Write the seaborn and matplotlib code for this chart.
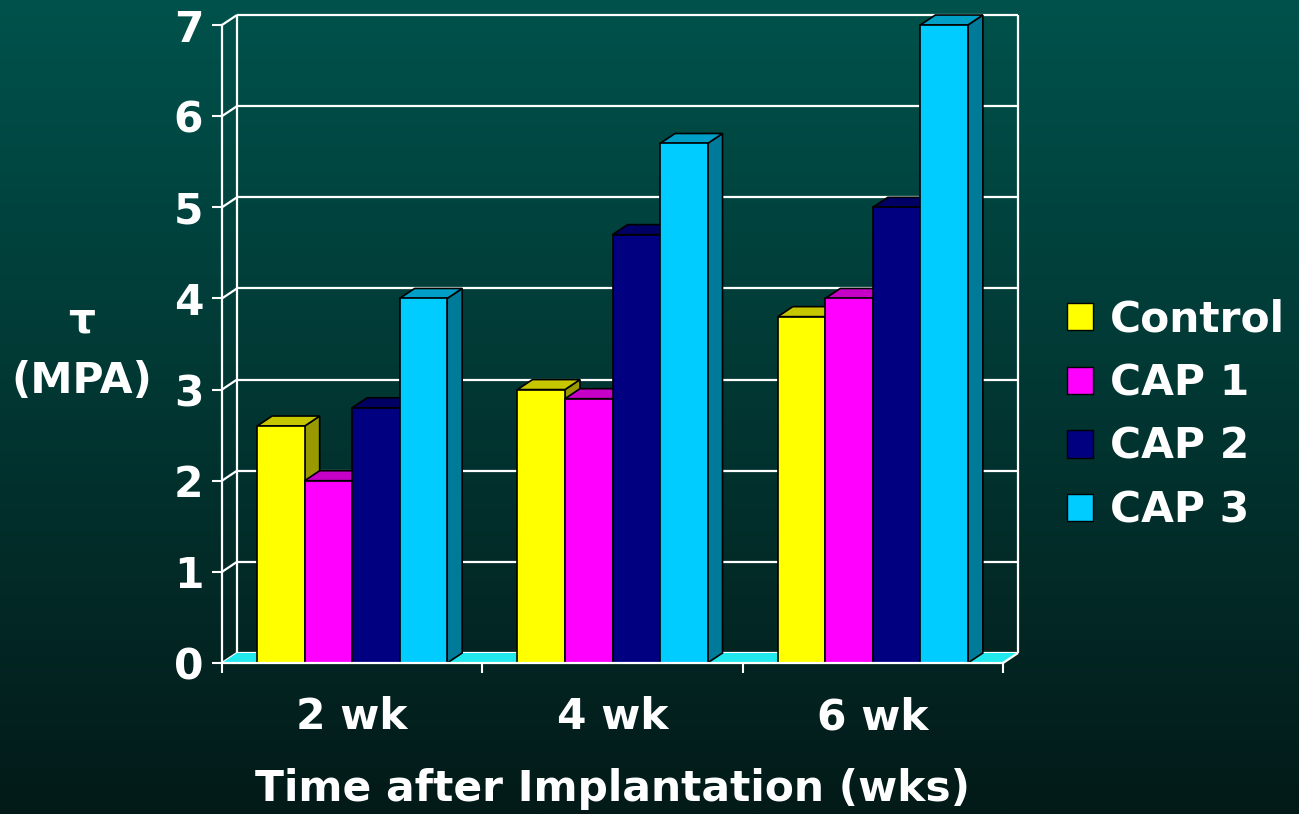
import numpy as np
import pandas as pd
import matplotlib
matplotlib.use("Agg")
import matplotlib.pyplot as plt
from matplotlib.patches import Polygon, Patch, Rectangle
from matplotlib.colors import to_rgb
import seaborn as sns

# ---- data -------------------------------------------------------------
weeks = ["2 wk", "4 wk", "6 wk"]
groups = ["Control", "CAP 1", "CAP 2", "CAP 3"]
control = [2.6, 3.0, 3.8]
cap1 = [2.0, 2.9, 4.0]
cap2 = [2.8, 4.7, 5.0]
cap3 = [4.0, 5.7, 7.0]
y_ticks = [0, 1, 2, 3, 4, 5, 6, 7]

colors = ["#FFFF00", "#FF00FF", "#000080", "#00CCFF"]
floor_color = "#20E8EC"

df = pd.DataFrame({
    "week": weeks * 4,
    "group": [g for g in groups for _ in weeks],
    "tau": control + cap1 + cap2 + cap3,
})

sns.set_theme(style="white")
plt.rcParams["font.family"] = ["DejaVu Sans"]
plt.rcParams["font.weight"] = "bold"

W, H = 1299, 814
fig = plt.figure(figsize=(W / 100, H / 100), dpi=100)

# ---- background gradient ---------------------------------------------
bg = fig.add_axes([0, 0, 1, 1], zorder=-10)
top = np.array([0, 82, 76]) / 255
bot = np.array([3, 26, 24]) / 255
t = np.linspace(0, 1, 400)[:, None]
grad = (top[None, :] * (1 - t) + bot[None, :] * t)[:, None, :]
grad = np.repeat(grad, 4, axis=1)
bg.imshow(grad, aspect="auto", extent=[0, 1, 0, 1], origin="upper")
bg.set_axis_off()

# ---- main axes ---------------------------------------------------------
x_left, x_right, y_base, y_top = 222, 1003, 663, 25
ax = fig.add_axes([x_left / W, (H - y_base) / H,
                   (x_right - x_left) / W, (y_base - y_top) / H])
ax.patch.set_alpha(0)

sns.barplot(data=df, x="week", y="tau", hue="group", order=weeks,
            hue_order=groups, palette=colors, saturation=1, width=0.73,
            edgecolor="black", linewidth=1.2, ax=ax, legend=False)
bars = sorted([p for p in ax.patches if isinstance(p, Rectangle)
               and p.get_height() > 0], key=lambda p: p.get_x())

ax.set_xlim(-0.5, 2.5)
ax.set_ylim(0, 7)

# depth of the 3D box in data units (15 px right, 10 px up)
p0 = ax.transData.transform((0, 0))
px_x = ax.transData.transform((1, 0))[0] - p0[0]
px_y = ax.transData.transform((0, 1))[1] - p0[1]
dx, dy = 15 / px_x, 10 / px_y

xa, xb = ax.get_xlim()
wall_kw = dict(color="white", lw=1.6, clip_on=False, zorder=1,
               solid_capstyle="butt")

# back wall gridlines and side-wall diagonals
for v in y_ticks:
    ax.plot([xa + dx, xb + dx], [v + dy, v + dy], **wall_kw)
    ax.plot([xa, xa + dx], [v, v + dy], **wall_kw)
ax.plot([xa + dx, xa + dx], [dy, 7 + dy], **wall_kw)
ax.plot([xb + dx, xb + dx], [dy, 7 + dy], **wall_kw)

# floor
ax.add_patch(Polygon([(xa, 0), (xb, 0), (xb + dx, dy), (xa + dx, dy)],
                     closed=True, facecolor=floor_color, edgecolor="none",
                     clip_on=False, zorder=1.5))
ax.plot([xb, xb + dx], [0, dy], **{**wall_kw, "zorder": 1.6})


def shade(c, f):
    r, g, b = to_rgb(c)
    return (r * f, g * f, b * f)


# extrude each bar: side face, top face, then the front face on top
for i, p in enumerate(bars):
    x0, w, h = p.get_x(), p.get_width(), p.get_height()
    fc = p.get_facecolor()
    z = 2 + i * 0.01
    side = Polygon([(x0 + w, 0), (x0 + w + dx, dy), (x0 + w + dx, h + dy),
                    (x0 + w, h)], closed=True, facecolor=shade(fc, 0.6),
                   edgecolor="black", lw=1.2, zorder=z, clip_on=False)
    topf = Polygon([(x0, h), (x0 + w, h), (x0 + w + dx, h + dy),
                    (x0 + dx, h + dy)], closed=True,
                   facecolor=shade(fc, 0.78), edgecolor="black", lw=1.2,
                   zorder=z + 0.001, clip_on=False)
    ax.add_patch(side)
    ax.add_patch(topf)
    p.set_zorder(z + 0.002)
    p.set_clip_on(False)

# ---- axes styling ------------------------------------------------------
fs = 30.5
for s in ["top", "right"]:
    ax.spines[s].set_visible(False)
for s in ["left", "bottom"]:
    ax.spines[s].set_color("white")
    ax.spines[s].set_linewidth(1.6)
    ax.spines[s].set_zorder(3)
ax.set_yticks(y_ticks)
ax.set_yticklabels([str(v) for v in y_ticks])
ax.tick_params(axis="y", length=7.5, width=1.5, color="white", pad=6,
               labelsize=fs, labelcolor="white", left=True)
ax.set_xticks([xa, 0.5, 1.5, xb], minor=True)
ax.tick_params(axis="x", which="minor", length=7.5, width=1.5,
               color="white", direction="out", bottom=True)
ax.tick_params(axis="x", which="major", length=0, pad=24, labelsize=fs,
               labelcolor="white")
ax.grid(False)

ax.set_xlabel("Time after Implantation (wks)", color="white",
              fontsize=fs, fontweight="bold", labelpad=21)
ax.set_ylabel("τ\n(MPA)", color="white", fontsize=fs, fontweight="bold",
              rotation=0, linespacing=1.55, ha="center", va="center")
ax.yaxis.set_label_coords(82 / W, 1 - 351 / H, transform=fig.transFigure)

# ---- legend ------------------------------------------------------------
handles = [Patch(facecolor=c, edgecolor="black", lw=1.0) for c in colors]
ax.legend(handles, groups, loc="center left",
          bbox_to_anchor=(1067 / W, 1 - 415 / H),
          bbox_transform=fig.transFigure, frameon=False,
          labelcolor="white", prop={"size": fs, "weight": "bold"},
          handlelength=0.62, handleheight=0.62, handletextpad=0.4,
          labelspacing=0.51, borderpad=0, borderaxespad=0)

fig.savefig("out.png", dpi=100)
